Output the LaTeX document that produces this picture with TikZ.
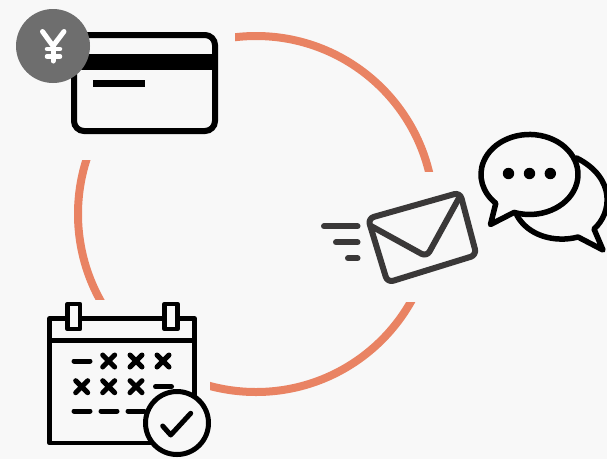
\documentclass[tikz,border=0pt]{standalone}
\definecolor{bgcol}{HTML}{F8F8F8}
\definecolor{ringcol}{HTML}{E98363}
\definecolor{badgecol}{HTML}{6E6E6E}
\definecolor{mailcol}{HTML}{3A3838}
\tikzset{
  icon/.style={line width=#1, black, line cap=round, line join=round},
  mail/.style={line width=#1, mailcol, line cap=round, line join=round}
}
\begin{document}
\begin{tikzpicture}[x=1pt,y=-1pt]
\clip (0,0) rectangle (607,459);
\fill[bgcol] (0,0) rectangle (607,459);

% Ring
\draw[ringcol, line width=8] (256,214) circle (178);
\fill[bgcol] (0,0) rectangle (235,160);
\fill[bgcol] (300,172) rectangle (607,302);
\fill[bgcol] (0,300) rectangle (210,459);

% Card
\draw[line width=6] (74,35) [rounded corners=10] rectangle (215,131);
\fill[black] (74,54) rectangle (215,70);
\fill[black] (93,80) rectangle (145,86.5);

% Yen badge
\fill[badgecol] (53,46) circle (37);
\draw[line width=5, white, line cap=round, line join=round] (42.5,31.5) -- (53,46) -- (64,31.5);
\draw[line width=5, white, line cap=round] (53,46) -- (53,61);
\draw[line width=4.5, white, line cap=round] (47,49) -- (60,49);
\draw[line width=4.5, white, line cap=round] (47,56.5) -- (60,56.5);

% Calendar
\draw[icon=4.8] (49.5,318.5) rectangle (194.5,443);
\draw[icon=4.8] (49.5,340.5) -- (194.5,340.5);
\draw[icon=4.8, fill=bgcol] (67.5,304) rectangle (80,329);
\draw[icon=4.8, fill=bgcol] (164.5,304) rectangle (177.5,329);

% Calendar marks
\foreach \px/\py in {108.7/361, 136/361, 163/361, 81.7/386.7, 108.7/386.7, 136/386.7} {
  \draw[icon=5] (\px-6,\py-6) -- (\px+6,\py+6);
  \draw[icon=5] (\px-6,\py+6) -- (\px+6,\py-6);
}
\foreach \px/\py in {74/361, 155.5/386.7, 74/411, 101/411, 128/411} {
  \draw[icon=5] (\px,\py) -- (\px+16,\py);
}

% Check badge
\draw[icon=5, fill=bgcol] (177,423) circle (31.5);
\draw[icon=5] (162.7,426) -- (170.7,435) -- (190.7,413.3);

% Speed lines
\draw[mail=6] (324,226.3) -- (357.5,226.3);
\draw[mail=6] (336,242.3) -- (357.5,242.3);
\draw[mail=6] (348,258.3) -- (357.5,258.3);

% Envelope
\draw[mail=6, rounded corners=6] (368,218.5) -- (460,192.5) -- (476.5,255) -- (387.5,282.5) -- cycle;
\draw[mail=6, rounded corners=6] (371,226) -- (426.7,256.7) -- (459,198);

% Back bubble
\draw[icon=5.5] (516.7,215) .. controls (528,236) and (555,243) .. (578,237) -- (603,250) -- (594,229)
  .. controls (612,213) and (616,178) .. (576.7,158);

% Front bubble
\draw[icon=5.5, fill=bgcol] (514.1,212.4) arc[start angle=108.5, end angle=-226, x radius=48.5, y radius=40] -- (490.5,224.5) -- cycle;
\fill[black] (508.5,173.5) circle (5.7);
\fill[black] (529.5,173.5) circle (5.7);
\fill[black] (550.3,173.5) circle (5.7);

\end{tikzpicture}
\end{document}
